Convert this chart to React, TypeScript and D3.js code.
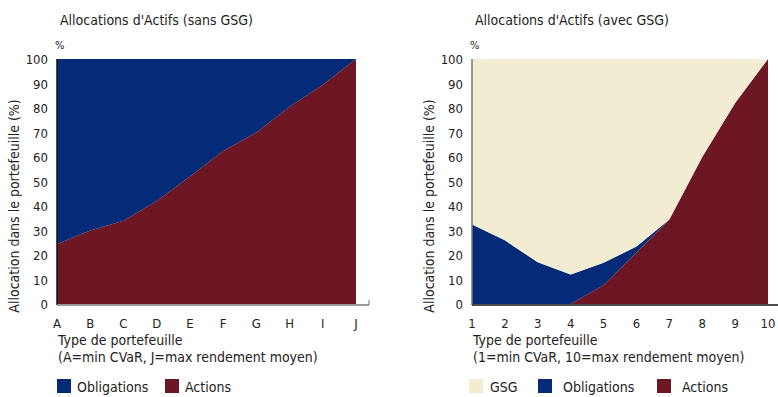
import React from "react";
import * as d3 from "d3";

// Portfolio types
const lettersX = ["A", "B", "C", "D", "E", "F", "G", "H", "I", "J"];
const numbersX = ["1", "2", "3", "4", "5", "6", "7", "8", "9", "10"];

// Allocation without commodities (%)
const actionsSans = [24.5, 30, 34, 42, 52, 62.5, 70, 80.5, 89.5, 100];
const obligationsSans = actionsSans.map((v) => 100 - v);

// Allocation with commodities (%)
const actionsAvec = [0, 0, 0, 0, 7.8, 21, 34.5, 60, 82, 100];
const obligationsAvec = [32.5, 26, 17, 12, 9, 2.5, 0, 0, 0, 0];
const gsgAvec = actionsAvec.map((v, i) => 100 - v - obligationsAvec[i]);

const yTicks = [0, 10, 20, 30, 40, 50, 60, 70, 80, 90, 100];

const COLORS: Record<string, string> = {
  GSG: "#f2ecd2",
  Obligations: "#052a78",
  Actions: "#6d1624",
};

const FONT = "'DejaVu Sans Condensed', 'DejaVu Sans', sans-serif";
const TXT = "#222";
const textStyle = { fontStretch: "condensed" as const };

type PanelProps = {
  ox: number;
  title: string;
  labels: string[];
  series: { key: string; values: number[] }[];
  legend: { key: string; sx: number; tx: number }[];
  x0: number;
  x1: number;
  axisEnd: number;
  note: string;
  yAxisColor: string;
  xAxisColor: string;
  endTick: boolean;
};

function Panel(p: PanelProps) {
  const top = 59;
  const bottom = 304;
  const x = d3.scalePoint<string>().domain(p.labels).range([p.x0, p.x1]);
  const y = d3.scaleLinear().domain([0, 100]).range([bottom, top]);
  const rows = p.labels.map((l, i) => {
    const r: Record<string, number | string> = { label: l };
    p.series.forEach((s) => (r[s.key] = s.values[i]));
    return r;
  });
  const stack = d3.stack<any>().keys(p.series.map((s) => s.key));
  const layers = stack(rows);
  const area = d3
    .area<any>()
    .x((d) => x(d.data.label) as number)
    .y0((d) => y(d[0]))
    .y1((d) => y(d[1]));

  return (
    <g fontFamily={FONT} fill={TXT} style={textStyle}>
      <text x={p.ox} y={25} fontSize={14}>
        {p.title}
      </text>
      <text x={p.x0 - 2} y={49} fontSize={11}>
        %
      </text>
      {layers.map((l) => (
        <path key={l.key} d={area(l) || ""} fill={COLORS[l.key]} />
      ))}
      {/* y axis */}
      <line x1={p.x0} x2={p.x0} y1={top} y2={bottom + 1} stroke={p.yAxisColor} strokeWidth={1.5} />
      {yTicks.map((t) => (
        <text key={t} x={p.x0 - 9} y={y(t) + 5} fontSize={13} textAnchor="end">
          {t}
        </text>
      ))}
      {/* x axis */}
      <line x1={p.x0} x2={p.axisEnd} y1={bottom + 1} y2={bottom + 1} stroke={p.xAxisColor} strokeWidth={1.5} />
      {p.endTick && (
        <line x1={p.axisEnd} x2={p.axisEnd} y1={bottom + 1} y2={bottom - 4} stroke={p.xAxisColor} strokeWidth={1} />
      )}
      {p.labels.map((l) => (
        <text key={l} x={x(l) as number} y={328} fontSize={13} textAnchor="middle">
          {l}
        </text>
      ))}
      <text x={p.x0 + 1} y={345} fontSize={14}>
        Type de portefeuille
      </text>
      <text x={p.x0 + 1} y={362} fontSize={14}>
        {p.note}
      </text>
      <text
        transform={`translate(${p.x0 - 38},${206}) rotate(-90)`}
        fontSize={14}
        textAnchor="middle"
      >
        Allocation dans le portefeuille (%)
      </text>
      {p.legend.map((g) => (
        <g key={g.key}>
          <rect x={g.sx} y={379} width={14} height={14} fill={COLORS[g.key]} />
          <text x={g.tx} y={392} fontSize={14}>
            {g.key}
          </text>
        </g>
      ))}
    </g>
  );
}

export default function App() {
  return (
    <svg width={778} height={397} style={{ display: "block", position: "absolute", left: 0, top: 0 }}>
      <rect width={778} height={397} fill="#fff" />
      <Panel
        ox={60}
        title="Allocations d'Actifs (sans GSG)"
        labels={lettersX}
        series={[
          { key: "Actions", values: actionsSans },
          { key: "Obligations", values: obligationsSans },
        ]}
        legend={[
          { key: "Obligations", sx: 57, tx: 77 },
          { key: "Actions", sx: 165, tx: 185 },
        ]}
        x0={57}
        x1={356}
        axisEnd={369}
        note="(A=min CVaR, J=max rendement moyen)"
        yAxisColor="#111"
        xAxisColor="#777"
        endTick={true}
      />
      <Panel
        ox={475}
        title="Allocations d'Actifs (avec GSG)"
        labels={numbersX}
        series={[
          { key: "Actions", values: actionsAvec },
          { key: "Obligations", values: obligationsAvec },
          { key: "GSG", values: gsgAvec },
        ]}
        legend={[
          { key: "GSG", sx: 469, tx: 490 },
          { key: "Obligations", sx: 538, tx: 563 },
          { key: "Actions", sx: 657, tx: 682 },
        ]}
        x0={472}
        x1={768}
        axisEnd={778}
        note="(1=min CVaR, 10=max rendement moyen)"
        yAxisColor="#777"
        xAxisColor="#111"
        endTick={false}
      />
    </svg>
  );
}
